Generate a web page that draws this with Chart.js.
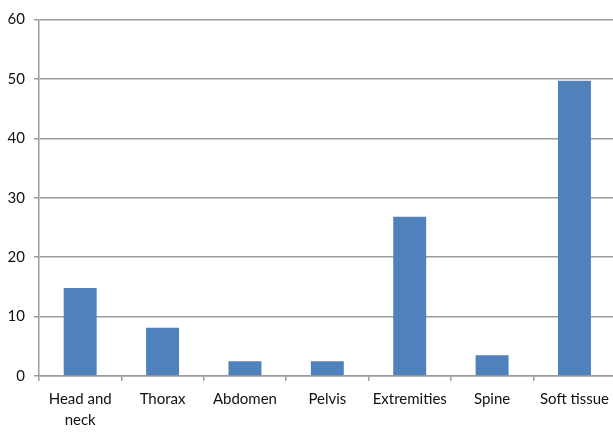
<!DOCTYPE html>
<html>
<head>
<meta charset="utf-8">
<script src="https://cdn.jsdelivr.net/npm/chart.js@4.4.1/dist/chart.umd.min.js"></script>
<style>
  html, body { margin: 0; padding: 0; background: #fff; overflow: hidden; }
  #wrap { width: 613px; height: 432px; overflow: hidden; }
  canvas { display: block; }
</style>
</head>
<body>
<div id="wrap"><canvas id="c" width="617" height="432"></canvas></div>
<script>
// Tumour sites and their percentages
const categories = [['Head and', 'neck'], 'Thorax', 'Abdomen', 'Pelvis', 'Extremities', 'Spine', 'Soft tissue'];
const values = [14.8, 8.1, 2.5, 2.5, 26.8, 3.5, 49.7];
const yTicks = [0, 10, 20, 30, 40, 50, 60];

const labelFont = { family: 'Lato', size: 15, lineHeight: 1.4 };
const gridGray = '#9c9c9c';

new Chart(document.getElementById('c'), {
  type: 'bar',
  data: {
    labels: categories,
    datasets: [{
      data: values,
      backgroundColor: '#4f81bd',
      borderWidth: 0,
      categoryPercentage: 1,
      barPercentage: 0.4
    }]
  },
  options: {
    responsive: false,
    animation: false,
    layout: { padding: { top: 19, right: 0, left: 0, bottom: 0 } },
    plugins: { legend: { display: false }, tooltip: { enabled: false } },
    scales: {
      x: {
        grid: { display: true, drawOnChartArea: false, drawTicks: true, tickLength: 5, color: gridGray, lineWidth: 1.5, offset: true },
        border: { display: true, color: gridGray, width: 1.5 },
        ticks: { color: '#111', font: labelFont, padding: 8, maxRotation: 0, autoSkip: false },
        afterFit: s => { s.height = 56; }
      },
      y: {
        min: 0, max: 60,
        afterBuildTicks: s => { s.ticks = yTicks.map(v => ({ value: v })); },
        grid: { color: gridGray, lineWidth: 1.5, tickLength: 5, drawTicks: true },
        border: { display: true, color: gridGray, width: 1.5 },
        ticks: { color: '#111', font: labelFont, padding: 9 },
        afterFit: s => { s.width = 39; }
      }
    }
  }
});
</script>
</body>
</html>
